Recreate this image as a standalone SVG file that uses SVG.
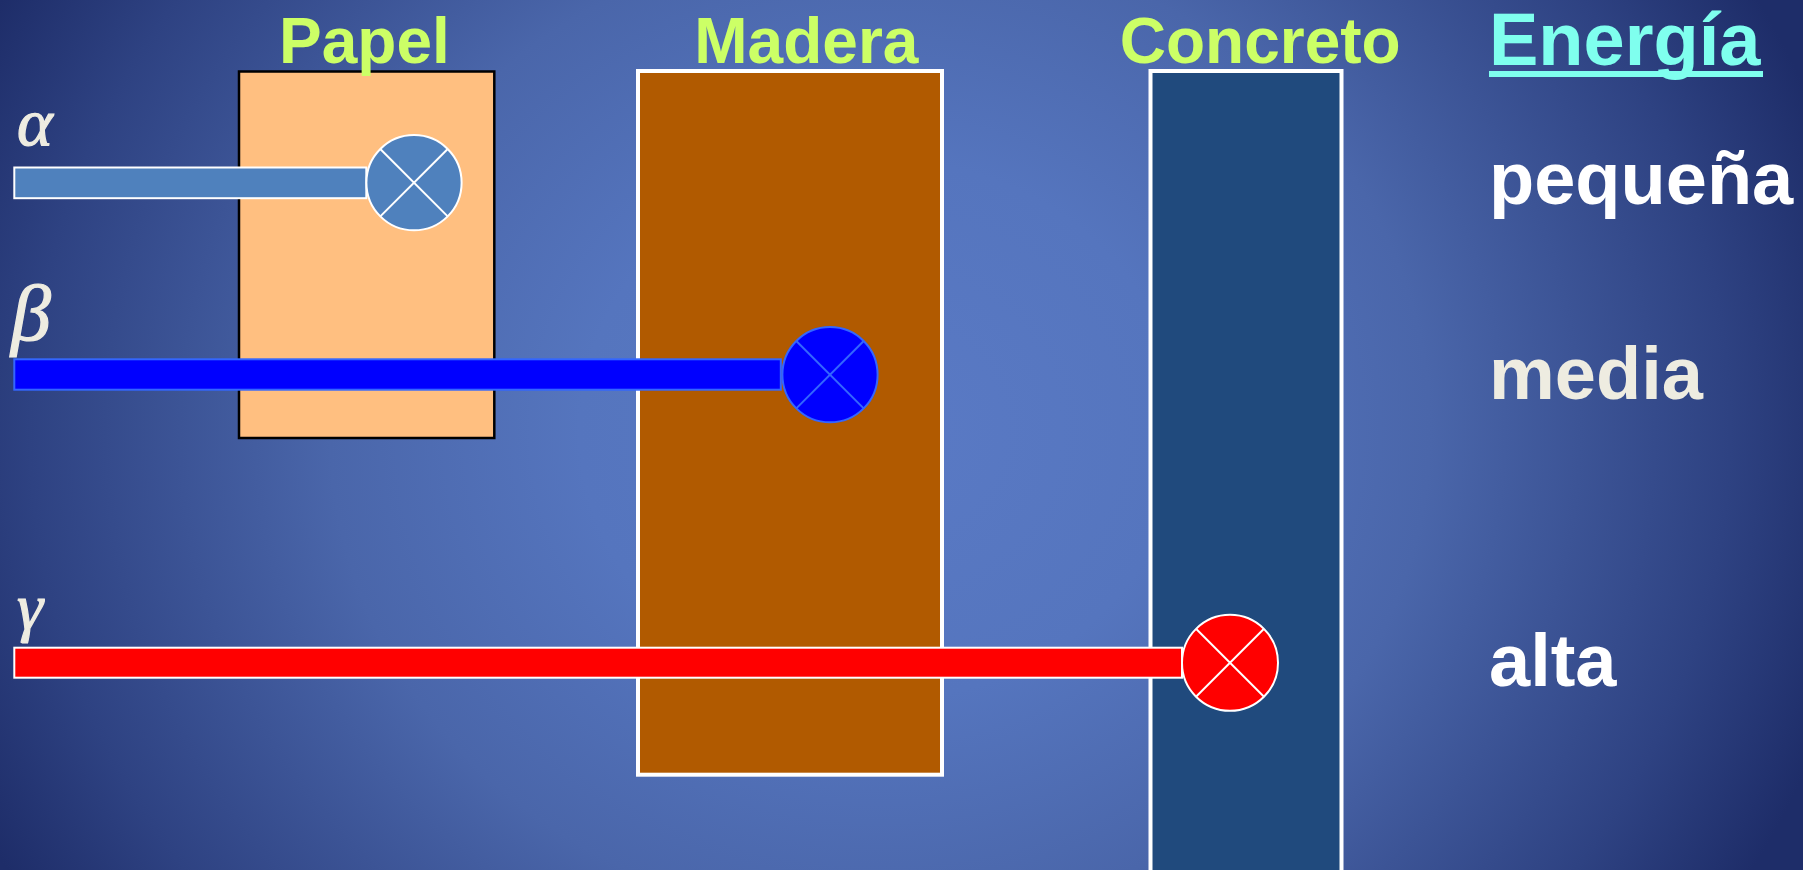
<svg xmlns="http://www.w3.org/2000/svg" width="1803" height="870" viewBox="0 0 1803 870">
  <defs>
    <radialGradient id="bg" gradientUnits="userSpaceOnUse" cx="0" cy="0" r="1" gradientTransform="translate(880 430) scale(1000 900)">
      <stop offset="0" stop-color="#5A7AC5"/>
      <stop offset="0.3" stop-color="#5575BE"/>
      <stop offset="0.55" stop-color="#4A66AA"/>
      <stop offset="0.85" stop-color="#2E4282"/>
      <stop offset="1" stop-color="#1E2D69"/>
    </radialGradient>
  </defs>
  <style>
    .title { font-family: "Liberation Sans", Arial, sans-serif; font-weight: bold; font-size: 64px; fill: #CCFF66; }
    .energy { font-family: "Liberation Sans", Arial, sans-serif; font-weight: bold; font-size: 74px; }
    .greek { font-family: "Liberation Serif", "Times New Roman", serif; font-style: italic; fill: #EEECE1; stroke: #EEECE1; stroke-width: 1.2; }
    .bar { stroke-width: 2; }
    .xl { stroke-width: 2; fill: none; }
  </style>

  <rect id="background" x="0" y="0" width="1803" height="870" fill="url(#bg)"/>

  <g id="papel">
    <rect x="239" y="71.5" width="255.3" height="366.5" fill="#FFBF80" stroke="#000000" stroke-width="2.5"/>
  </g>
  <g id="madera">
    <rect x="638" y="71" width="304" height="703.7" fill="#B15A00" stroke="#FFFFFF" stroke-width="4"/>
  </g>
  <g id="concreto">
    <rect x="1150.5" y="71" width="191" height="803" fill="#204A7D" stroke="#FFFFFF" stroke-width="4"/>
  </g>

  <g id="connectors">
    <g id="beam-alpha">
      <rect class="bar" x="14.3" y="167.5" width="352" height="30.7" fill="#4F81BD" stroke="#FFFFFF"/>
      <circle cx="414" cy="182.7" r="47.6" fill="#4F81BD" stroke="#FFFFFF" stroke-width="2"/>
      <path class="xl" d="M380.3 149 L447.7 216.4 M447.7 149 L380.3 216.4" stroke="#FFFFFF"/>
    </g>
    <g id="beam-beta">
      <rect class="bar" x="14.3" y="359.3" width="766.5" height="30.4" fill="#0000FF" stroke="#3366FF"/>
      <circle cx="830" cy="374.7" r="47.6" fill="#0000FF" stroke="#3366FF" stroke-width="2"/>
      <path class="xl" d="M796.3 341 L863.7 408.4 M863.7 341 L796.3 408.4" stroke="#3366FF"/>
    </g>
    <g id="beam-gamma">
      <rect class="bar" x="14.3" y="647.7" width="1167.7" height="30" fill="#FF0000" stroke="#FFFFFF"/>
      <circle cx="1230" cy="662.8" r="48" fill="#FF0000" stroke="#FFFFFF" stroke-width="2"/>
      <path class="xl" d="M1196 628.8 L1264 696.8 M1264 628.8 L1196 696.8" stroke="#FFFFFF"/>
    </g>
  </g>

  <g id="titles">
    <text class="title" x="279" y="63.3">Papel</text>
    <text class="title" x="694.3" y="63.3">Madera</text>
    <text class="title" x="1119.8" y="63.3">Concreto</text>
  </g>

  <g id="greek-labels">
    <text class="greek" x="17" y="145" font-size="68">α</text>
    <text class="greek" x="11" y="340" font-size="80">β</text>
    <text class="greek" x="17" y="629" font-size="66">γ</text>
  </g>

  <g id="energy">
    <text class="energy" x="1489" y="64.5" fill="#7FFFEE">Energía</text>
    <rect x="1489" y="71" width="274" height="6" fill="#7FFFEE"/>
    <text class="energy" x="1489" y="204" fill="#FFFFFF">pequeña</text>
    <text class="energy" x="1489" y="399.3" fill="#EEECE1">media</text>
    <text class="energy" x="1489" y="686" fill="#FFFFFF">alta</text>
  </g>
</svg>
